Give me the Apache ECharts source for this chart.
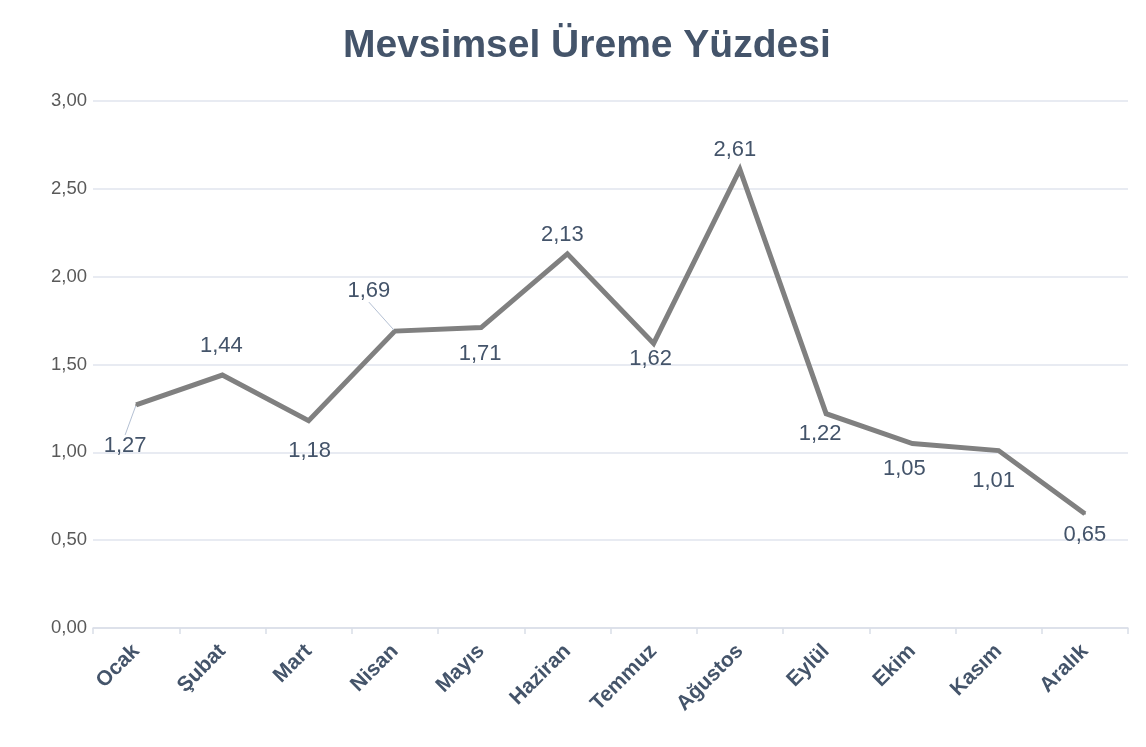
<!DOCTYPE html>
<html>
<head>
<meta charset="utf-8">
<script src="https://cdn.jsdelivr.net/npm/echarts@6/dist/echarts.min.js"></script>
<style>
    html, body { margin: 0; padding: 0; background: #fff; }
    #chart { width: 1146px; height: 747px; }
</style>
</head>
<body>
<div id="chart"></div>
<script>
// aylar
var months = ['Ocak', 'Şubat', 'Mart', 'Nisan', 'Mayıs', 'Haziran', 'Temmuz', 'Ağustos', 'Eylül', 'Ekim', 'Kasım', 'Aralık'];
// üreme yüzdesi
var values = [1.27, 1.44, 1.18, 1.69, 1.71, 2.13, 1.62, 2.61, 1.22, 1.05, 1.01, 0.65];
// y ekseni
var yMin = 0, yMax = 3, yStep = 0.5;

// etiketlerin noktaya göre kayması (dx, dy)
var labelShift = [[-11, 41], [-1, -29], [1, 30], [-26, -40], [-1, 26], [-5, -19],
                  [-3, 16], [-5, -20], [-6, 20], [-8, 25], [-5, 30], [0, 21]];
// kılavuz çizgili etiketler
var withLeader = [0, 3];

function fmt(v) {
    return v.toFixed(2).replace('.', ',');
}

var chart = echarts.init(document.getElementById('chart'));

var seriesData = values.map(function (v, i) {
    return {
        value: v,
        labelLine: { show: withLeader.indexOf(i) >= 0 }
    };
});

var option = {
    backgroundColor: '#fff',
    textStyle: { fontFamily: 'Liberation Sans, Arial, sans-serif' },
    title: {
        text: 'Mevsimsel Üreme Yüzdesi',
        left: 338,
        top: 22,
        textStyle: { fontSize: 39, fontWeight: 'bold', color: '#44546a', fontFamily: 'Liberation Sans' }
    },
    grid: { left: 93, right: 18, top: 101, bottom: 119 },
    xAxis: {
        type: 'category',
        data: months,
        boundaryGap: true,
        axisLine: { lineStyle: { color: '#d9dee8', width: 1.5 } },
        axisTick: { show: true, length: 6, lineStyle: { color: '#d9dee8', width: 1.5 } },
        axisLabel: {
            rotate: 45,
            margin: 20,
            fontSize: 21,
            fontWeight: 'bold',
            color: '#44546a',
            interval: 0
        }
    },
    yAxis: {
        type: 'value',
        min: yMin,
        max: yMax,
        interval: yStep,
        axisLine: { show: false },
        axisTick: { show: false },
        splitLine: { lineStyle: { color: '#e1e5ee', width: 1.5 } },
        axisLabel: {
            margin: 6,
            fontSize: 18.5,
            color: '#595959',
            formatter: fmt
        }
    },
    series: [{
        type: 'line',
        data: seriesData,
        symbol: 'circle',
        symbolSize: 2,
        itemStyle: { color: '#808080' },
        lineStyle: { color: '#808080', width: 5, join: 'miter' },
        label: {
            show: true,
            fontSize: 22,
            color: '#44546a',
            formatter: function (p) { return fmt(p.value); }
        },
        labelLine: { lineStyle: { color: '#b4c0d3', width: 1 } },
        labelLayout: function (p) {
            var r = p.rect;
            var s = labelShift[p.dataIndex];
            return {
                x: r.x + r.width / 2 + s[0],
                y: r.y + r.height / 2 + s[1],
                align: 'center',
                verticalAlign: 'middle'
            };
        },
        animation: false
    }]
};

chart.setOption(option);
</script>
</body>
</html>
